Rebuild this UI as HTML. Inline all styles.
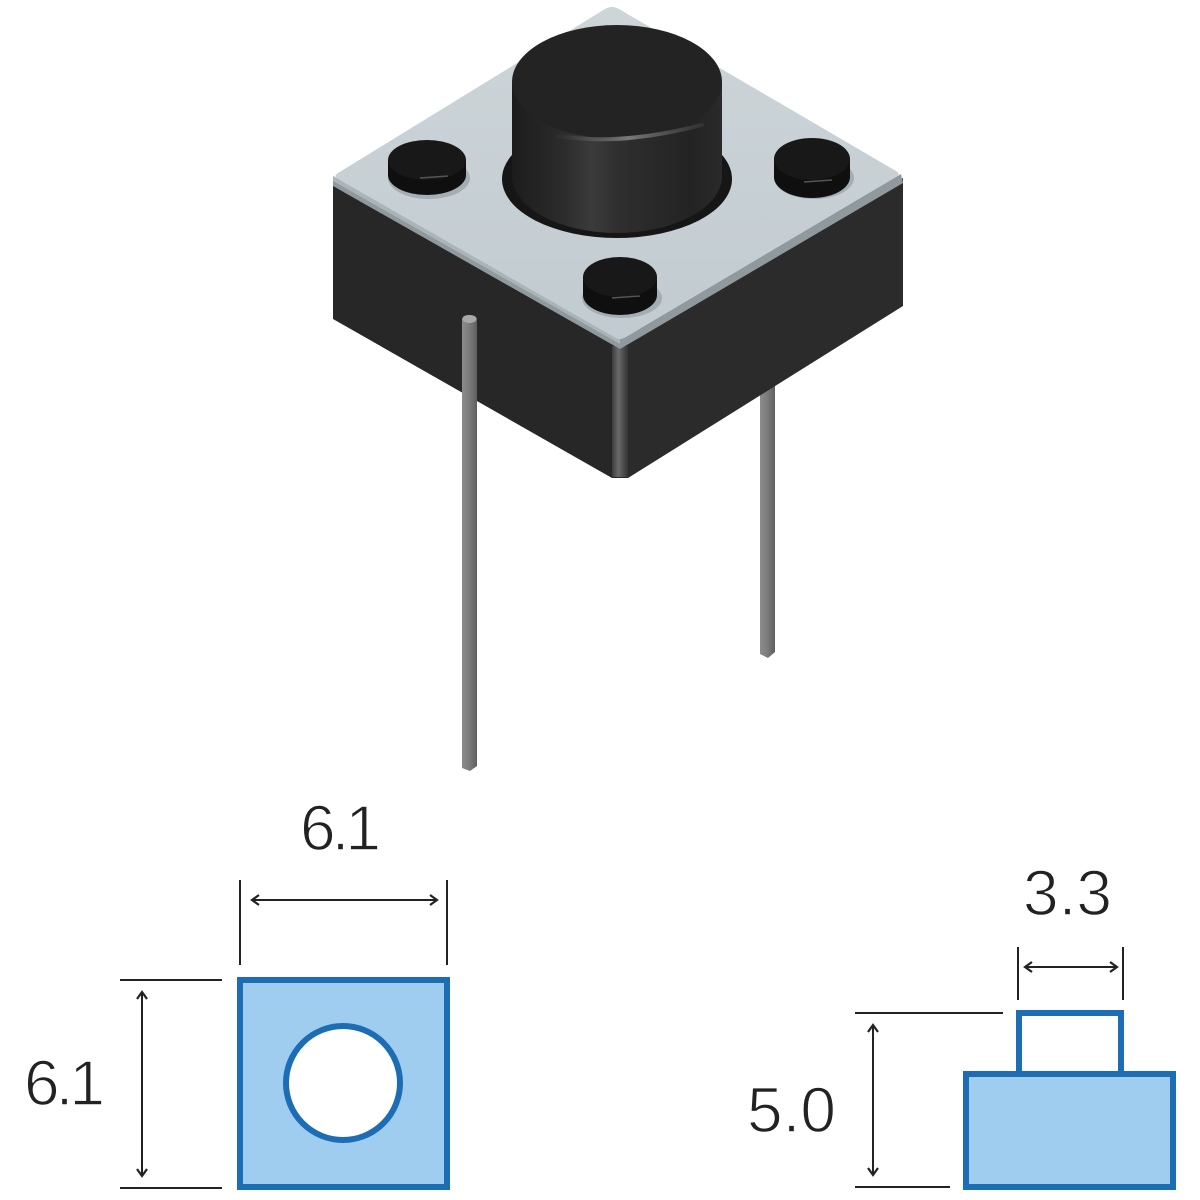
<!DOCTYPE html>
<html>
<head>
<meta charset="utf-8">
<style>
  html,body{margin:0;padding:0;background:#fff;}
  svg{display:block;}
  text{font-family:"Liberation Sans",Arial,sans-serif;fill:#222;stroke:#fff;stroke-width:1.4px;}
</style>
</head>
<body>
<svg width="1200" height="1200" viewBox="0 0 1200 1200" xmlns="http://www.w3.org/2000/svg">
  <defs>
    <linearGradient id="pin" x1="0" y1="0" x2="1" y2="0">
      <stop offset="0" stop-color="#8c8c8c"/>
      <stop offset="0.5" stop-color="#7b7b7b"/>
      <stop offset="1" stop-color="#5e5e5e"/>
    </linearGradient>
    <linearGradient id="edge" x1="0" y1="0" x2="1" y2="0">
      <stop offset="0" stop-color="#3a3a3a"/>
      <stop offset="0.4" stop-color="#6a6a6a"/>
      <stop offset="1" stop-color="#333"/>
    </linearGradient>
    <linearGradient id="face" x1="0" y1="0" x2="0" y2="1">
      <stop offset="0" stop-color="#cdd5d9"/>
      <stop offset="1" stop-color="#c2cbd0"/>
    </linearGradient>
    <linearGradient id="cyl" x1="0" y1="0" x2="1" y2="0">
      <stop offset="0" stop-color="#1c1c1c"/>
      <stop offset="0.25" stop-color="#2c2c2c"/>
      <stop offset="0.38" stop-color="#3b3b3b"/>
      <stop offset="0.5" stop-color="#2f2f2f"/>
      <stop offset="0.85" stop-color="#232323"/>
      <stop offset="1" stop-color="#2a2a2a"/>
    </linearGradient>
    <linearGradient id="hl" x1="0" y1="0" x2="1" y2="0">
      <stop offset="0" stop-color="#555" stop-opacity="0"/>
      <stop offset="0.5" stop-color="#7a7a7a"/>
      <stop offset="1" stop-color="#555" stop-opacity="0.3"/>
    </linearGradient>
  </defs>

  <!-- right pin (behind body) -->
  <path d="M760,300 L775,300 L775,652 L768,658 L760,654 Z" fill="url(#pin)"/>

  <!-- body -->
  <polygon points="333,180 620,344 620,478 612,478 333,319" fill="#272727"/>
  <polygon points="620,344 903,178 903,306 628,478 620,478" fill="#2b2b2b"/>
  <rect x="612" y="346" width="16" height="131" fill="url(#edge)"/>

  <!-- rim of top face -->
  <polygon points="333,176 620,339 901,174 903,183 620,349 333,186" fill="#8f999e"/>
  <polygon points="333,176 620,339 620,344 333,181" fill="#aab4b9"/>
  <!-- top face -->
  <path d="M338,173 L605,9 Q612,5 619,9 L896,171 Q901,174 896,177 L626,337 Q620,341 614,337 L338,179 Q333,176 338,173 Z" fill="url(#face)"/>

  <!-- recess around button -->
  <ellipse cx="617" cy="179" rx="115" ry="59" fill="#161616"/>
  <!-- cylinder -->
  <ellipse cx="617" cy="176" rx="105" ry="57" fill="url(#cyl)"/>
  <rect x="512" y="82" width="210" height="94" fill="url(#cyl)"/>
  <ellipse cx="617" cy="82" rx="105" ry="57" fill="#232323"/>
  <path d="M553,135 Q617,147 702,125" stroke="url(#hl)" stroke-width="4" fill="none" stroke-linecap="round"/>

  <!-- bumps -->
  <g>
    <ellipse cx="429" cy="178" rx="41" ry="21" fill="#8d979c" opacity="0.6"/>
    <ellipse cx="427" cy="175" rx="39" ry="20" fill="#0f0f0f"/>
    <rect x="388" y="160" width="78" height="15" fill="#0f0f0f"/>
    <ellipse cx="427" cy="160" rx="39" ry="20" fill="#181818"/>
    <path d="M420,178 L448,176" stroke="#555" stroke-width="1.5"/>
  </g>
  <g>
    <ellipse cx="814" cy="178" rx="40" ry="21" fill="#8d979c" opacity="0.6"/>
    <ellipse cx="812" cy="177" rx="38" ry="21" fill="#0f0f0f"/>
    <rect x="774" y="159" width="76" height="18" fill="#0f0f0f"/>
    <ellipse cx="812" cy="159" rx="38" ry="21" fill="#181818"/>
    <path d="M804,182 L832,180" stroke="#555" stroke-width="1.5"/>
  </g>
  <g>
    <ellipse cx="622" cy="298" rx="40" ry="20" fill="#8d979c" opacity="0.6"/>
    <ellipse cx="620" cy="295" rx="37" ry="20" fill="#0f0f0f"/>
    <rect x="583" y="277" width="74" height="18" fill="#0f0f0f"/>
    <ellipse cx="620" cy="277" rx="37" ry="20" fill="#181818"/>
    <path d="M612,298 L640,296" stroke="#555" stroke-width="1.5"/>
  </g>

  <!-- left pin (front) -->
  <path d="M462,320 Q462,315 469,315 Q477,315 477,320 L477,766 L470,771 L462,768 Z" fill="url(#pin)"/>
  <ellipse cx="469.5" cy="319" rx="7" ry="4" fill="#a8a8a8"/>

  <!-- ===== bottom-left diagram ===== -->
  <text x="300" y="850" font-size="64" letter-spacing="-4">6.1</text>
  <line x1="240" y1="880" x2="240" y2="965" stroke="#222" stroke-width="2"/>
  <line x1="447" y1="880" x2="447" y2="965" stroke="#222" stroke-width="2"/>
  <line x1="253" y1="900" x2="436" y2="900" stroke="#222" stroke-width="2"/>
  <path d="M259,895 L252,900 L259,905" stroke="#222" stroke-width="2.2" fill="none"/>
  <path d="M430,895 L437,900 L430,905" stroke="#222" stroke-width="2.2" fill="none"/>

  <line x1="120" y1="980" x2="222" y2="980" stroke="#222" stroke-width="2"/>
  <line x1="120" y1="1188" x2="222" y2="1188" stroke="#222" stroke-width="2"/>
  <line x1="142" y1="993" x2="142" y2="1175" stroke="#222" stroke-width="2"/>
  <path d="M137,999 L142,992 L147,999" stroke="#222" stroke-width="2.2" fill="none"/>
  <path d="M137,1169 L142,1176 L147,1169" stroke="#222" stroke-width="2.2" fill="none"/>
  <text x="24" y="1105" font-size="64" letter-spacing="-4">6.1</text>

  <rect x="240" y="980" width="207" height="207" fill="#9fcdef" stroke="#1d6db5" stroke-width="6"/>
  <circle cx="343" cy="1083" r="57" fill="#fff" stroke="#1d6db5" stroke-width="6"/>

  <!-- ===== bottom-right diagram ===== -->
  <text x="1023" y="915" font-size="64">3.3</text>
  <line x1="1018" y1="947" x2="1018" y2="1000" stroke="#222" stroke-width="2"/>
  <line x1="1123" y1="947" x2="1123" y2="1000" stroke="#222" stroke-width="2"/>
  <line x1="1026" y1="967" x2="1116" y2="967" stroke="#222" stroke-width="2"/>
  <path d="M1032,962 L1025,967 L1032,972" stroke="#222" stroke-width="2.2" fill="none"/>
  <path d="M1110,962 L1117,967 L1110,972" stroke="#222" stroke-width="2.2" fill="none"/>

  <line x1="855" y1="1013" x2="1003" y2="1013" stroke="#222" stroke-width="2"/>
  <line x1="855" y1="1187" x2="950" y2="1187" stroke="#222" stroke-width="2"/>
  <line x1="873" y1="1026" x2="873" y2="1174" stroke="#222" stroke-width="2"/>
  <path d="M868,1032 L873,1025 L878,1032" stroke="#222" stroke-width="2.2" fill="none"/>
  <path d="M868,1168 L873,1175 L878,1168" stroke="#222" stroke-width="2.2" fill="none"/>
  <text x="747" y="1132" font-size="64">5.0</text>

  <rect x="1019" y="1013" width="102" height="61" fill="#fff" stroke="#1d6db5" stroke-width="6"/>
  <rect x="966" y="1074" width="207" height="113" fill="#9fcdef" stroke="#1d6db5" stroke-width="6"/>
</svg>
</body>
</html>
